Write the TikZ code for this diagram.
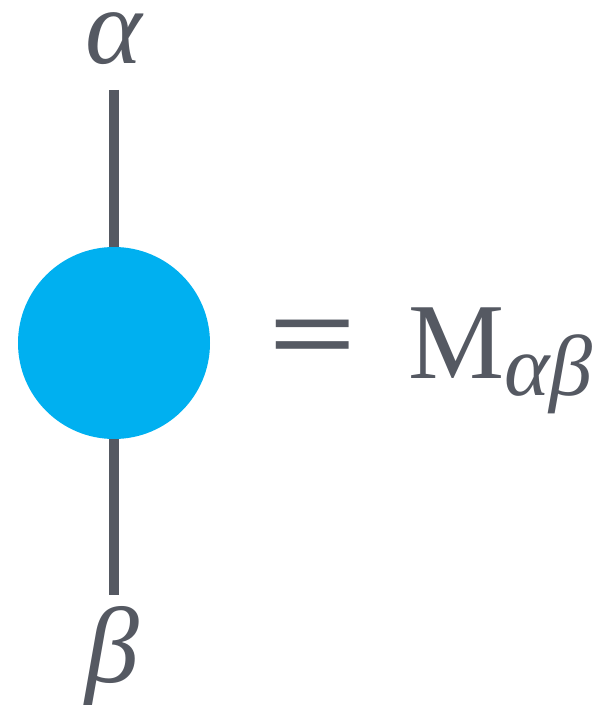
\documentclass[tikz,border=0pt]{standalone}
\usepackage{fontspec}
\setmainfont{Liberation Serif}
\definecolor{cgray}{RGB}{85,89,98}
\definecolor{ccyan}{RGB}{0,176,240}
\tikzset{
  tensor/.style={circle,fill=ccyan,minimum size=192pt,inner sep=0pt},
  leg/.style={cgray,line width=10pt},
  idx/.style={text=cgray,scale=10.8,inner sep=0pt}
}
\begin{document}
\begin{tikzpicture}[x=1pt,y=1pt]
    \useasboundingbox (0,0) rectangle (605,718);
    \node[tensor] (m) at (114,375) {};
    \coordinate (top) at (114,628);
    \coordinate (bot) at (114,123);
    \draw[leg] (top) -- (m);
    \draw[leg] (m) -- (bot);
    \node[idx,anchor=base,text height=1ex] (a) at (114,654) {\itshape α};
    \node[idx,anchor=base] (b) at (112,36) {\itshape β};
    \node[idx,xscale=1.45] (eq) at (313,373) {\bfseries =};
    \node[idx,anchor=base west] (mab) at (406,340) {M\raisebox{-0.35ex}{\footnotesize\itshape αβ}};
\end{tikzpicture}
\end{document}
